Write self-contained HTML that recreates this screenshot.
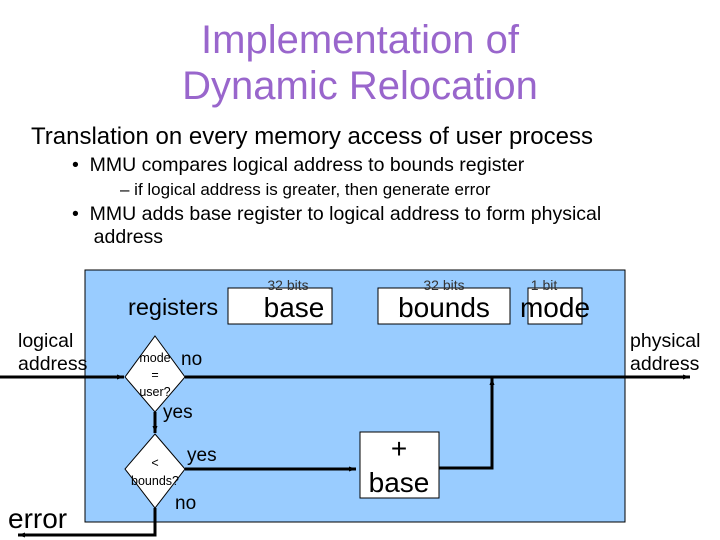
<!DOCTYPE html>
<html><head><style>
body{margin:0;width:720px;height:540px;background:#fff;overflow:hidden;font-family:"Liberation Sans",sans-serif;position:relative}
.t{position:absolute;white-space:nowrap}
</style></head><body>
<div class="t" style="left:0;width:720px;text-align:center;top:17px;font-size:40px;line-height:46px;color:#9966cc">Implementation of<br>Dynamic Relocation</div>
<div class="t" style="left:31px;top:123px;font-size:24px">Translation on every memory access of user process</div>
<div class="t" style="left:72px;top:154px;font-size:19.5px">•&nbsp; MMU compares logical address to bounds register</div>
<div class="t" style="left:120px;top:180px;font-size:17px">– if logical address is greater, then generate error</div>
<div class="t" style="left:72px;top:203px;font-size:19.5px;line-height:23px">•&nbsp; MMU adds base register to logical address to form physical<br>&nbsp;&nbsp;&nbsp; address</div>
<svg width="720" height="540" style="position:absolute;left:0;top:0" font-family="Liberation Sans, sans-serif">
<defs><marker id="a" markerUnits="userSpaceOnUse" markerWidth="8" markerHeight="8" refX="7" refY="4" orient="auto"><path d="M0,1.5 L7,4 L0,6.5z" fill="#000"/></marker></defs>
<rect x="85" y="270" width="540" height="252" fill="#99ccff" stroke="#000" stroke-width="1"/>
<text x="128" y="315" font-size="23.5">registers</text>
<rect x="228" y="288" width="104" height="36" fill="#fff" stroke="#000"/>
<text x="294" y="317" font-size="28" text-anchor="middle">base</text>
<text x="288" y="290" font-size="14" text-anchor="middle" fill="#333">32 bits</text>
<rect x="378" y="288" width="132" height="36" fill="#fff" stroke="#000"/>
<text x="444" y="317" font-size="28" text-anchor="middle">bounds</text>
<text x="444" y="290" font-size="14" text-anchor="middle" fill="#333">32 bits</text>
<rect x="528" y="288" width="54" height="36" fill="#fff" stroke="#000"/>
<text x="555" y="317" font-size="28" text-anchor="middle">mode</text>
<text x="544" y="290" font-size="14" text-anchor="middle" fill="#333">1 bit</text>
<line x1="0" y1="377" x2="124" y2="377" stroke="#000" stroke-width="3" marker-end="url(#a)"/>
<line x1="185" y1="377" x2="690" y2="377" stroke="#000" stroke-width="3" marker-end="url(#a)"/>
<line x1="155" y1="412" x2="155" y2="433" stroke="#000" stroke-width="3" marker-end="url(#a)"/>
<line x1="185" y1="469" x2="356" y2="469" stroke="#000" stroke-width="3" marker-end="url(#a)"/>
<polyline points="439,468 492,468 492,378" fill="none" stroke="#000" stroke-width="3" marker-end="url(#a)"/>
<polyline points="155,508 155,535 18,535" fill="none" stroke="#000" stroke-width="3" marker-end="url(#a)"/>
<polygon points="155,336 185,377 155,412 125,377" fill="#fff" stroke="#000"/>
<polygon points="155,434 185,469 155,508 125,469" fill="#fff" stroke="#000"/>
<text x="155" y="362" font-size="12.5" text-anchor="middle">mode</text>
<text x="155" y="379" font-size="12.5" text-anchor="middle">=</text>
<text x="155" y="396" font-size="12.5" text-anchor="middle">user?</text>
<text x="155" y="467" font-size="12.5" text-anchor="middle">&lt;</text>
<text x="155" y="485" font-size="12.5" text-anchor="middle">bounds?</text>
<text x="181" y="365" font-size="19">no</text>
<text x="163" y="418" font-size="19">yes</text>
<text x="187" y="461" font-size="19">yes</text>
<text x="175" y="509" font-size="19">no</text>
<text x="18" y="347" font-size="19.5">logical</text>
<text x="18" y="370" font-size="19.5">address</text>
<text x="630" y="347" font-size="19.5">physical</text>
<text x="630" y="370" font-size="19.5">address</text>
<text x="8" y="528" font-size="28">error</text>
<rect x="360" y="432" width="79" height="66" fill="#fff" stroke="#000"/>
<text x="399" y="458" font-size="28" text-anchor="middle">+</text>
<text x="399" y="492" font-size="28" text-anchor="middle">base</text>
</svg>
</body></html>
